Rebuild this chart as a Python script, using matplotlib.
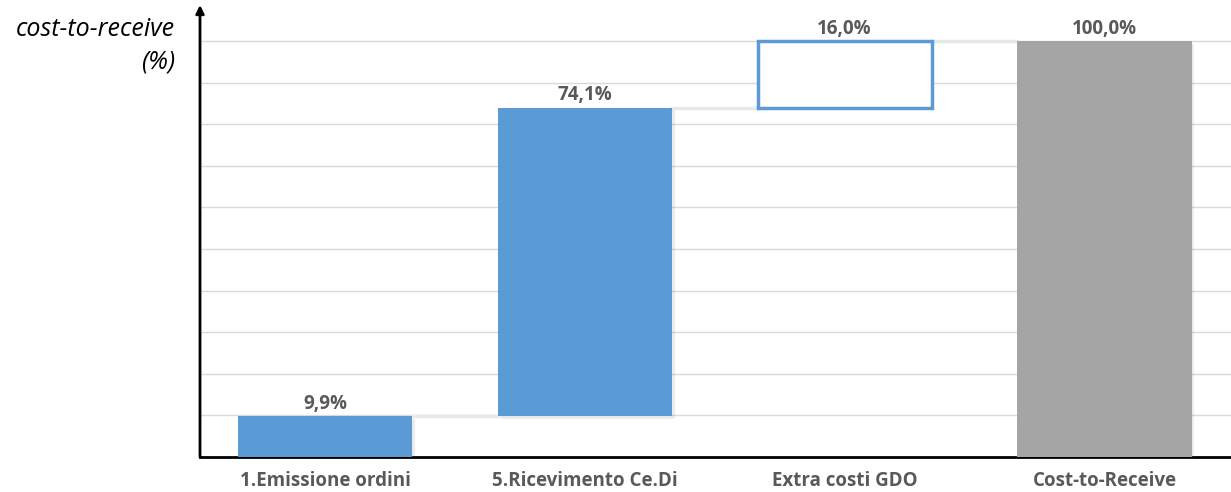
import matplotlib.pyplot as plt
import matplotlib.patheffects as pe

# dati del waterfall
categorie = ["1.Emissione ordini", "5.Ricevimento Ce.Di", "Extra costi GDO", "Cost-to-Receive"]
valori = [9.9, 74.1, 16.0, 100.0]
etichette = ["9,9%", "74,1%", "16,0%", "100,0%"]

# basi cumulative (l'ultima barra parte da zero)
basi = [0, valori[0], valori[0] + valori[1], 0]

blu = "#5B9BD5"
grigio = "#A5A5A5"
testo = "#595959"

plt.rcParams["font.family"] = ["Open Sans", "DejaVu Sans"]

fig = plt.figure(figsize=(12.31, 4.92), dpi=100)
ax = fig.add_axes([200 / 1231, 35 / 492, 1 - 200 / 1231, 452 / 492])

x = list(range(len(categorie)))
w = 0.67
ombra = [pe.SimplePatchShadow(offset=(2, -2), alpha=0.15, shadow_rgbFace="#808080"), pe.Normal()]

for i in x:
    if i == 2:
        b = ax.bar(i, valori[i], bottom=basi[i], width=w, color="white", edgecolor=blu, linewidth=2.5, zorder=3)
    elif i == 3:
        b = ax.bar(i, valori[i], bottom=basi[i], width=w, color=grigio, zorder=3)
    else:
        b = ax.bar(i, valori[i], bottom=basi[i], width=w, color=blu, zorder=3)
    b[0].set_path_effects(ombra)
    ax.text(i, basi[i] + valori[i] + 0.5, etichette[i], ha="center", va="bottom",
            fontsize=13.5, fontweight="bold", color=testo)

# connettori tra le barre
livelli = [valori[0], valori[0] + valori[1], 100.0]
for i, liv in enumerate(livelli):
    ax.plot([i + w / 2, i + 1 - w / 2], [liv, liv], color="#E8E8E8", lw=2.5, zorder=2)

ax.set_xlim(-0.481, 3.487)
ax.set_ylim(0, 108.65)
ax.set_yticks(range(10, 101, 10))
ax.yaxis.grid(True, color="#D9D9D9", lw=1, zorder=0)
ax.tick_params(axis="y", length=0, labelleft=False)
ax.set_xticks(x)
ax.set_xticklabels(categorie, fontsize=13.5, fontweight="bold", color=testo)
ax.tick_params(axis="x", length=0, pad=10)

for s in ["top", "right", "left"]:
    ax.spines[s].set_visible(False)
ax.spines["bottom"].set_linewidth(2)
ax.spines["bottom"].set_color("black")

# asse y con freccia
ax.annotate("", xy=(0, 1.0), xytext=(0, 0), xycoords="axes fraction",
            arrowprops=dict(arrowstyle="-|>", color="black", lw=2, mutation_scale=12,
                            shrinkA=0, shrinkB=0), annotation_clip=False)

fig.text(175 / 1231, 1 - 30 / 492, "cost-to-receive", ha="right", va="center",
         fontsize=18, style="italic", color="black")
fig.text(175 / 1231, 1 - 62 / 492, "(%)", ha="right", va="center",
         fontsize=18, style="italic", color="black")

fig.savefig("out.png", dpi=100)
